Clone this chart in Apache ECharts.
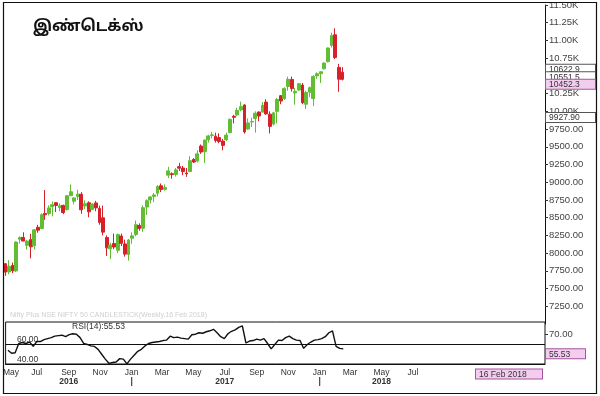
<!DOCTYPE html>
<html>
<head>
<meta charset="utf-8">
<script src="https://cdn.jsdelivr.net/npm/echarts@6/dist/echarts.min.js"></script>
<style>html,body{margin:0;padding:0;background:#fff}#c{width:600px;height:396px}</style>
</head>
<body>
<div id="c"></div>
<script>
// ---------- data (weekly candles, week ending Friday) ----------
const firstWeek = '2016-05-06';
const openP  = [7849,7735,7824,7749,8195,8221,8110,8190,8105,8364,8348,8560,8560,8654,8711,8642,8673,8614,8810,8732,
                8800,8830,8666,8710,8617,8708,8630,8498,8220,8060,8135,8040,8240,8130,7980,8210,8262,8390,8350,8650,
                8750,8800,8845,8950,8900,9100,9120,9110,9220,9200,9130,9150,9320,9300,9510,9430,9600,9660,9650,9630,
                9580,9600,9700,9930,9950,10020,10090,9750,9850,9900,9990,9990,10130,9960,9820,10000,10220,10180,10350,10450,
                10260,10300,10370,10100,10270,10180,10500,10530,10600,10700,10930,11080,10620,10551.5];
const highP  = [7860,7900,7866,8165,8234,8294,8187,8274,8340,8399,8560,8890,8674,8728,8720,8700,8683,8820,8968,8788,
                8894,8860,8745,8730,8701,8737,8669,8669,8250,8145,8275,8275,8275,8190,8200,8293,8460,8420,8672,8758,
                8800,8850,8960,8982,8970,9218,9140,9200,9274,9230,9200,9367,9340,9450,9532,9600,9670,9710,9700,9690,
                9610,9700,9900,9950,10050,10137,10100,9900,9910,10000,10000,10130,10170,10000,9990,10190,10230,10340,10490,10490,
                10330,10400,10400,10290,10350,10510,10550,10566,10690,10900,11110,11171,10670,10622.9];
const lowP   = [7678,7703,7717,7735,8134,8174,8050,7927,8051,8287,8336,8469,8532,8518,8580,8590,8550,8600,8807,8689,
                8750,8555,8620,8506,8603,8590,8400,8250,7960,7916,8056,8000,8100,7950,7893,8133,8237,8316,8300,8538,
                8700,8720,8800,8860,8880,9060,9050,9080,9160,9100,9075,9150,9270,9280,9400,9269,9560,9620,9560,9550,
                9450,9580,9690,9830,9930,10000,9685,9740,9780,9700,9860,9985,9950,9688,9800,9830,10100,10160,10290,10280,
                10094,10290,10100,10033,10200,10074,10460,10400,10590,10690,10900,10736,10276,10436];
const closeP = [7733,7814,7750,8156,8221,8170,8170,8089,8328,8323,8541,8541,8638,8683,8672,8667,8572,8809,8866,8779,
                8831,8611,8697,8583,8693,8638,8433,8296,8074,8114,8086,8261,8139,7986,8186,8244,8400,8349,8641,8740,
                8793,8821,8939,8898,8927,9160,9108,9174,9198,9150,9119,9304,9285,9400,9427,9595,9653,9668,9588,9574,
                9520,9665,9886,9915,10014,10066,9710,9837,9857,9974,9934,10085,9964,9788,9979,10167,10146,10323,10452,10321,
                10283,10389,10121,10265,10333,10493,10531,10558,10681,10894,11069,10760,10454,10452.3];
const rsi14  = [54,51,51.5,61,62,61,62.5,58,63,63,65,66,67,68.5,69,69.5,68,70,71,70.5,
                67,61,60,58.5,58,55,50,45,40.7,41.5,42,45.5,45,40.2,45,49,53,55,58.5,61,
                62,62.5,63,64,64.5,68.5,67,67.5,66.5,66,65.5,70,70.5,72,71.5,73,74,75.5,72,68,
                66,71,73.5,75,77.5,79,61.5,63.5,64,65.5,64.5,66,61,55.5,60,64.5,64,67,68.5,66,
                64.5,64,56,60,62.5,64.5,65,66,68,72,74,58,56,55.53];
const levelLine = 9927.90;
const rsiLevels = [60, 40];
const rsiTicks = [70];
const priceTicks = [7250,7500,7750,8000,8250,8500,8750,9000,9250,9500,9750,10000,10250,10500,10750,11000,11250,11500];
const monthLabels = [
  ['2016-05-12','May',''],['2016-07-01','Jul',''],['2016-09-01','Sep','2016'],['2016-11-01','Nov',''],
  ['2017-01-01','Jan','|'],['2017-03-01','Mar',''],['2017-05-01','May',''],['2017-07-01','Jul','2017'],
  ['2017-09-01','Sep',''],['2017-11-01','Nov',''],['2018-01-01','Jan','|'],['2018-03-01','Mar',''],
  ['2018-05-01','May','2018'],['2018-07-01','Jul','']
];
const axisStart = '2016-05-02';
const axisDays = 1047;
const titleText = 'இண்டெக்ஸ்';
const dateText = '16 Feb 2018';

// ---------- build ----------
function addDays(s, n) { const d = new Date(s + 'T00:00:00Z'); d.setUTCDate(d.getUTCDate() + n); return d.toISOString().slice(0, 10); }
const days = Array.from({length: axisDays}, (_, k) => addDays(axisStart, k));
const weeks = closeP.map((_, i) => addDays(firstWeek, 7 * i));
const candleData = weeks.map((w, i) => [w, openP[i], closeP[i], lowP[i], highP[i]]);
const rsiData = weeks.map((w, i) => [w, rsi14[i]]);
const labelMap = new Map(monthLabels.map(m => [m[0], m]));
const fmtPrice = v => v >= 10000 ? (v / 1000).toFixed(2) + 'K' : v.toFixed(2);

const chart = echarts.init(document.getElementById('c'), null, {renderer: 'canvas'});
const FONT = 'Liberation Sans, Arial, sans-serif';
const option = {
  animation: false,
  backgroundColor: '#fff',
  grid: [
    {left: 3, top: 1, width: 542, height: 323, show: false},
    {left: 3, top: 322, width: 542, height: 42, show: true, borderColor: '#111', borderWidth: 1, backgroundColor: 'transparent'}
  ],
  xAxis: [
    {type: 'category', gridIndex: 0, data: days, boundaryGap: true, show: false},
    {type: 'category', gridIndex: 1, data: days, boundaryGap: true,
     axisLine: {show: true, lineStyle: {color: '#111', width: 1}},
     axisTick: {show: false},
     axisLabel: {
       interval: (idx, val) => labelMap.has(val),
       margin: 4, color: '#333', fontFamily: FONT, fontSize: 8.5, lineHeight: 9,
       formatter: val => { const m = labelMap.get(val); if (!m) return ''; return m[2] ? '{m|' + m[1] + '}\n{y|' + m[2] + '}' : '{m|' + m[1] + '}'; },
       rich: {m: {fontSize: 8.5, color: '#333', fontFamily: FONT, lineHeight: 9}, y: {fontSize: 8.5, fontWeight: 'bold', color: '#333', fontFamily: FONT, lineHeight: 9}}
     },
     splitLine: {show: false}}
  ],
  yAxis: [
    {type: 'value', gridIndex: 0, position: 'right', min: 7000, max: 11500, scale: true,
     axisLine: {show: true, lineStyle: {color: '#111', width: 1}},
     axisTick: {show: true, length: 3, customValues: priceTicks, lineStyle: {color: '#333'}},
     axisLabel: {customValues: priceTicks, formatter: fmtPrice, color: '#444', fontFamily: FONT, fontSize: 9.5, margin: 4},
     splitLine: {show: false}},
    {type: 'value', gridIndex: 1, position: 'right', min: 40, max: 83,
     axisLine: {show: false},
     axisTick: {show: true, length: 3, customValues: rsiTicks, lineStyle: {color: '#333'}},
     axisLabel: {customValues: rsiTicks, formatter: v => v.toFixed(2), color: '#444', fontFamily: FONT, fontSize: 9.5, margin: 4},
     splitLine: {show: false}}
  ],
  series: [
    {type: 'candlestick', xAxisIndex: 0, yAxisIndex: 0, data: candleData, encode: {x: 0, y: [1, 2, 3, 4]},
     barWidth: 3.4,
     itemStyle: {color: '#62bd35', color0: '#d8202a', borderColor: '#62bd35', borderColor0: '#d8202a', borderWidth: 1}},
    {type: 'line', xAxisIndex: 1, yAxisIndex: 1, data: rsiData, encode: {x: 0, y: 1}, symbol: 'none',
     lineStyle: {color: '#111', width: 1.4},
     markLine: {silent: true, symbol: 'none', label: {show: false},
       lineStyle: {color: '#111', width: 1, type: 'solid'},
       data: rsiLevels.map(v => ({yAxis: v}))}}
  ]
};
chart.setOption(option);

// ---------- annotations positioned with the chart's own scales ----------
const yP = v => chart.convertToPixel({yAxisIndex: 0}, v);
const yR = v => chart.convertToPixel({yAxisIndex: 1}, v);
const last = closeP.length - 1;
const b0 = yP(highP[last]) + 1;
const b1 = Math.max(yP(openP[last]), b0 + 7.5);
const b2 = Math.max(yP(closeP[last]), b1 + 7.5);
const boxStyle = (txt, y, pink) => ({
  type: 'text', left: 545, top: y - 4.5, z: 100,
  style: {text: txt, fontSize: 8.5, fontFamily: FONT, fill: '#333', width: 44,
          backgroundColor: pink ? '#f3cdee' : '#fff', borderColor: pink ? '#a455a0' : '#555',
          borderWidth: 1, padding: [1, 2, 0, 3], lineHeight: 8}
});
const graphics = [
  {type: 'rect', shape: {x: 3.5, y: 2.5, width: 593, height: 391}, style: {fill: 'none', stroke: '#111', lineWidth: 1.2}, z: 200},
  {type: 'text', left: 33, top: 20, style: {text: titleText, fontSize: 15.5, fontWeight: 'bold', fill: '#111',
     fontFamily: 'Noto Sans Tamil, Lohit Tamil, Noto Sans, sans-serif'}},
  {type: 'text', left: 10, top: 312, style: {text: 'Nifty Plus NSE NIFTY 50 CANDLESTICK(Weekly,16 Feb 2018)', fontSize: 7,
     fontFamily: FONT, fill: '#cfcfcf'}},
  {type: 'text', left: 72, top: 322.5, style: {text: 'RSI(14):' + rsi14[last].toFixed(2), fontSize: 8.5, fontFamily: FONT, fill: '#333'}},
  {type: 'text', left: 17, top: yR(rsiLevels[0]) - 9, style: {text: rsiLevels[0].toFixed(2), fontSize: 8.5, fontFamily: FONT, fill: '#333'}},
  {type: 'text', left: 17, top: yR(rsiLevels[1]) - 9, style: {text: rsiLevels[1].toFixed(2), fontSize: 8.5, fontFamily: FONT, fill: '#333'}},
  boxStyle(highP[last].toFixed(1), b0, false),
  boxStyle(openP[last].toFixed(1), b1, false),
  boxStyle(closeP[last].toFixed(1), b2, true),
  boxStyle(levelLine.toFixed(2), yP(levelLine), false),
  {type: 'text', left: 545, top: yR(rsi14[last]) - 4.5 + 4, z: 100,
   style: {text: rsi14[last].toFixed(2), fontSize: 8.5, fontFamily: FONT, fill: '#333', width: 34,
           backgroundColor: '#f3cdee', borderColor: '#a455a0', borderWidth: 1, padding: [1, 2, 0, 3], lineHeight: 8}},
  {type: 'text', left: 475, top: 368.5, z: 100,
   style: {text: dateText, fontSize: 8.5, fontFamily: FONT, fill: '#333', width: 61,
           backgroundColor: '#f3cdee', borderColor: '#a455a0', borderWidth: 1, padding: [1, 2, 0, 3], lineHeight: 8}}
];
chart.setOption({graphic: graphics});
</script>
</body>
</html>
